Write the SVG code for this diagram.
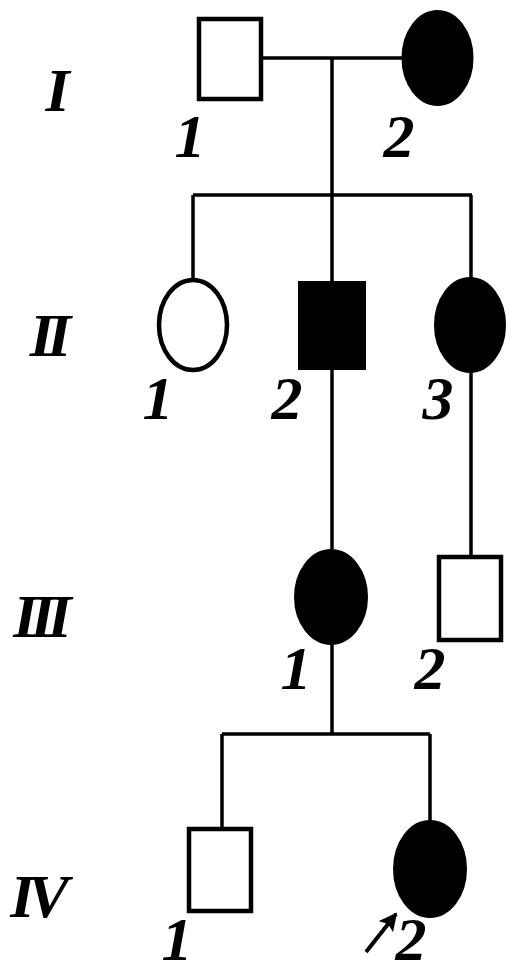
<svg xmlns="http://www.w3.org/2000/svg" width="506" height="974" viewBox="0 0 506 974">
<defs>
<style>
.ln{stroke:#000;stroke-width:3.5;fill:none}
.open{fill:#fff;stroke:#000;stroke-width:4.5}
.aff{fill:#000;stroke:#000;stroke-width:2}
.t{font-family:"Liberation Serif","Times New Roman",serif;font-style:italic;font-weight:bold;font-size:62px;fill:#000;text-anchor:middle}
.g{letter-spacing:-7px}
</style>
<marker id="ah" viewBox="0 0 10 10" refX="9" refY="5" markerWidth="4.5" markerHeight="4.5" orient="auto" markerUnits="strokeWidth">
<path d="M0,0 L10,5 L0,10 L2,5 z" fill="#000"/>
</marker>
</defs>
<rect width="506" height="974" fill="#fff"/>
<g id="connectors">
<line class="ln" x1="262" y1="58" x2="402" y2="58"/>
<line class="ln" x1="332" y1="58" x2="332" y2="195"/>
<line class="ln" x1="193" y1="195" x2="472" y2="195"/>
<line class="ln" x1="193" y1="195" x2="193" y2="279"/>
<line class="ln" x1="332" y1="195" x2="332" y2="282"/>
<line class="ln" x1="471" y1="195" x2="471" y2="279"/>
<line class="ln" x1="332" y1="370" x2="332" y2="549"/>
<line class="ln" x1="471" y1="372" x2="471" y2="556"/>
<line class="ln" x1="332" y1="645" x2="332" y2="734"/>
<line class="ln" x1="222" y1="734" x2="430" y2="734"/>
<line class="ln" x1="222" y1="734" x2="222" y2="828"/>
<line class="ln" x1="430" y1="734" x2="430" y2="821"/>
</g>
<g id="gen-labels">
<text class="t g" x="54" y="111">I</text>
<text class="t g" x="47" y="356">II</text>
<text class="t g" x="39" y="637">III</text>
<text class="t g" x="36" y="917">IV</text>
</g>
<g id="I-1"><rect class="open" x="199" y="19" width="62" height="80"/><text class="t" x="190" y="157">1</text></g>
<g id="I-2"><ellipse class="aff" cx="437.5" cy="58" rx="35" ry="47"/><text class="t" x="399" y="157">2</text></g>
<g id="II-1"><ellipse class="open" cx="193" cy="325" rx="34" ry="45"/><text class="t" x="158" y="419">1</text></g>
<g id="II-2"><rect class="aff" x="299" y="282" width="66" height="87"/><text class="t" x="287" y="419">2</text></g>
<g id="II-3"><ellipse class="aff" cx="470" cy="325" rx="35" ry="47"/><text class="t" x="438" y="419">3</text></g>
<g id="III-1"><ellipse class="aff" cx="331" cy="597" rx="36" ry="47"/><text class="t" x="296" y="689">1</text></g>
<g id="III-2"><rect class="open" x="439" y="557" width="62" height="83"/><text class="t" x="430" y="689">2</text></g>
<g id="IV-1"><rect class="open" x="189" y="829" width="62" height="82"/><text class="t" x="177" y="960">1</text></g>
<g id="IV-2"><ellipse class="aff" cx="430" cy="869" rx="36" ry="48"/><text class="t" x="411" y="960">2</text></g>
<g id="proband-arrow"><line x1="366" y1="952" x2="396" y2="914" stroke="#000" stroke-width="4" marker-end="url(#ah)"/></g>
</svg>
